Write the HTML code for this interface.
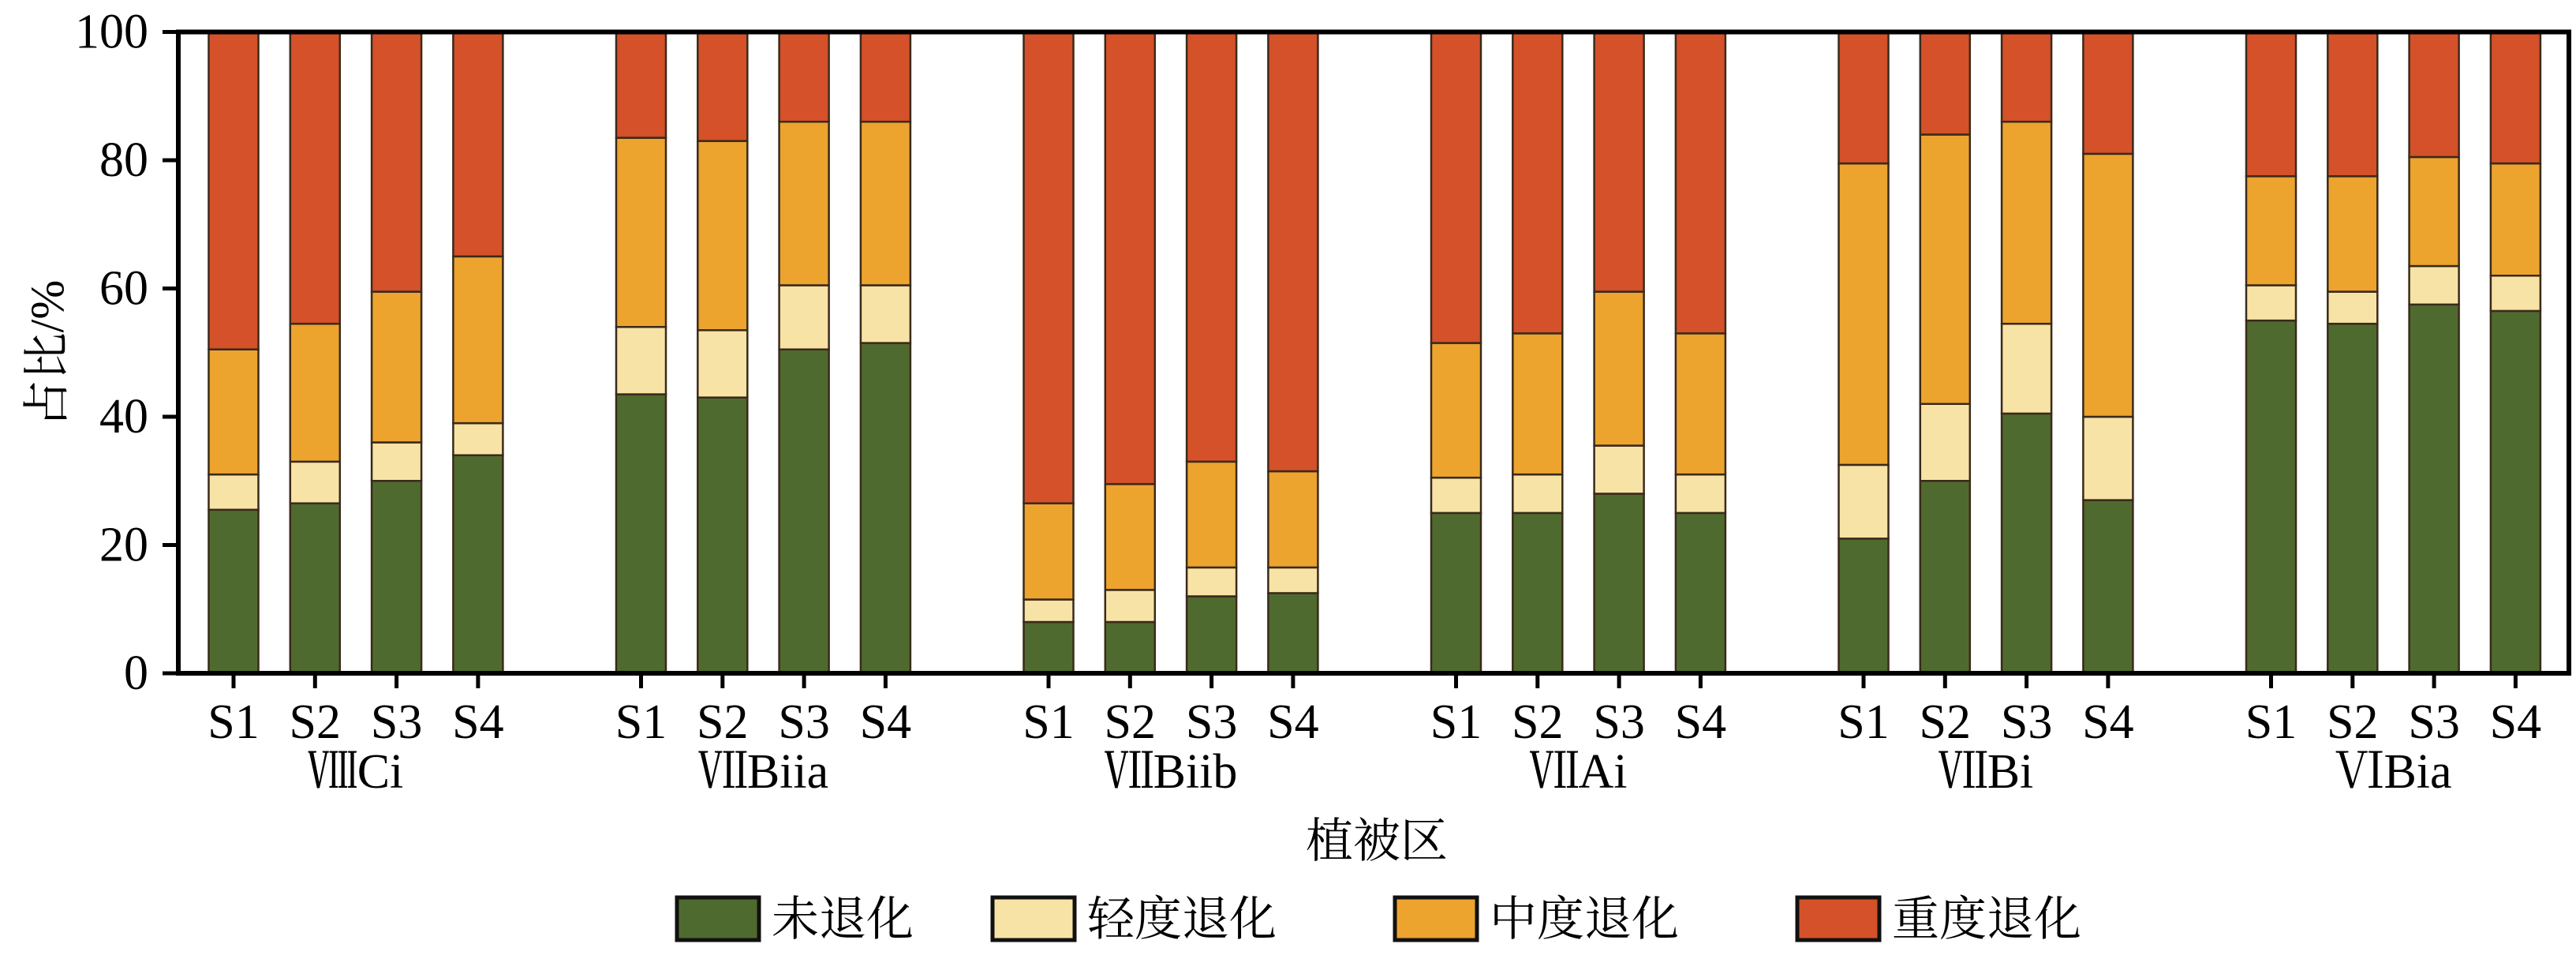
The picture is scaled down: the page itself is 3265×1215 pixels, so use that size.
<!DOCTYPE html>
<html><head><meta charset="utf-8"><style>html,body{margin:0;padding:0;background:#fff;}svg{display:block}</style></head>
<body>
<svg id="s" width="3265" height="1215" xmlns="http://www.w3.org/2000/svg" font-family="'Liberation Serif','Noto Serif CJK SC',serif">
<g id="bars"></g>
<g stroke="#000" stroke-width="6" fill="none">
<rect x="226" y="40.5" width="3030" height="812.5"/>
</g>
<g id="ticks" stroke="#000" stroke-width="5"></g>
<g id="txt" font-size="62" fill="#000"></g>
<text x="1745" y="1086" font-size="60" text-anchor="middle" font-family="'Noto Serif CJK SC',serif">植被区</text>
<text transform="translate(80,448) rotate(-90)" font-size="60" text-anchor="middle" font-family="'Liberation Serif','Noto Serif CJK SC',serif">占比/%</text>
<g stroke="#111" stroke-width="5">
<rect x="858" y="1137" width="104" height="54" fill="#4f6a2e"/>
<rect x="1258" y="1137" width="104" height="54" fill="#f8e3a6"/>
<rect x="1768" y="1137" width="104" height="54" fill="#eca42f"/>
<rect x="2278" y="1137" width="104" height="54" fill="#d4512a"/>
</g>
<g font-size="60" font-family="'Noto Serif CJK SC',serif" fill="#000">
<text x="978" y="1185">未退化</text>
<text x="1378" y="1185">轻度退化</text>
<text x="1888" y="1185">中度退化</text>
<text x="2398" y="1185">重度退化</text>
</g>
</svg>
<script>
var d=[[[25.5,31,50.5],[26.5,33,54.5],[30,36,59.5],[34,39,65]],
[[43.5,54,83.5],[43,53.5,83],[50.5,60.5,86],[51.5,60.5,86]],
[[8,11.5,26.5],[8,13,29.5],[12,16.5,33],[12.5,16.5,31.5]],
[[25,30.5,51.5],[25,31,53],[28,35.5,59.5],[25,31,53]],
[[21,32.5,79.5],[30,42,84],[40.5,54.5,86],[27,40,81]],
[[55,60.5,77.5],[54.5,59.5,77.5],[57.5,63.5,80.5],[56.5,62,79.5]]];
var names=["ⅧCi","ⅦBiia","ⅦBiib","ⅦAi","ⅦBi","ⅥBia"];
var col=["#4f6a2e","#f8e3a6","#eca42f","#d4512a"];
var ns="http://www.w3.org/2000/svg";
function el(p,t,a,tx){var e=document.createElementNS(ns,t);for(var k in a)e.setAttribute(k,a[k]);if(tx)e.textContent=tx;document.getElementById(p).appendChild(e);}
function Y(v){return 853-v*8.125;}
for(var g=0;g<6;g++){
 for(var i=0;i<4;i++){
  var cx=296+g*516.5+i*103.3;
  var b=[0].concat(d[g][i]).concat([100]);
  for(var k=0;k<4;k++){
   el("bars","rect",{x:cx-31.5,y:Y(b[k+1]),width:63,height:Y(b[k])-Y(b[k+1]),fill:col[k],stroke:"#3a2a1a","stroke-width":2.5});
  }
  el("ticks","line",{x1:cx,y1:853,x2:cx,y2:872});
  el("txt","text",{x:cx,y:935,"text-anchor":"middle"},"S"+(i+1));
 }
 el("txt","text",{x:296+g*516.5+155,y:998,"text-anchor":"middle"},names[g]);
}
for(var v=0;v<=100;v+=20){
 el("ticks","line",{x1:206,y1:Y(v),x2:226,y2:Y(v)});
 el("txt","text",{x:188,y:Y(v)+20,"text-anchor":"end"},""+v);
}
</script>
</body></html>
